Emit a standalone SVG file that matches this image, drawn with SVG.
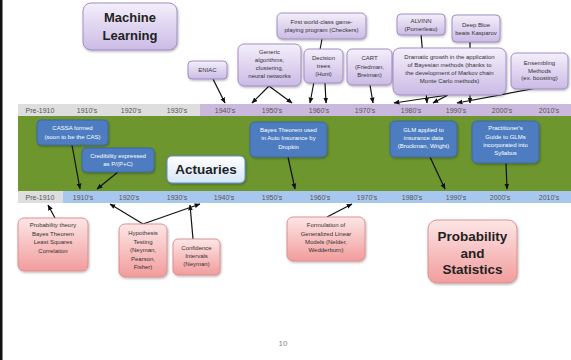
<svg xmlns="http://www.w3.org/2000/svg" width="571" height="360" viewBox="0 0 571 360">
<defs>
<linearGradient id="gp" x1="0" y1="0" x2="0" y2="1"><stop offset="0" stop-color="#f4effb"/><stop offset="1" stop-color="#cbbbe5"/></linearGradient>
<linearGradient id="gk" x1="0" y1="0" x2="0" y2="1"><stop offset="0" stop-color="#fde6e6"/><stop offset="1" stop-color="#f29c9c"/></linearGradient>
<linearGradient id="ga" x1="0" y1="0" x2="0" y2="1"><stop offset="0" stop-color="#ffffff"/><stop offset="1" stop-color="#d6e5f8"/></linearGradient>
<filter id="sh" x="-10%" y="-10%" width="130%" height="130%"><feDropShadow dx="0.8" dy="1.2" stdDeviation="0.8" flood-color="#000" flood-opacity="0.3"/></filter>
<marker id="arr" viewBox="0 0 10 10" refX="9" refY="5" markerWidth="5" markerHeight="5" orient="auto"><path d="M0,1 L10,5 L0,9 z" fill="#111"/></marker>
</defs>
<style>
.p{fill:url(#gp);stroke:#9a86c2;stroke-width:0.9;filter:url(#sh)}
.k{fill:url(#gk);stroke:#d98a8a;stroke-width:0.9;filter:url(#sh)}
.b{fill:#4d7dc0;stroke:#3b66a3;stroke-width:0.9;filter:url(#sh)}
.a{fill:url(#ga);stroke:#5a8ed6;stroke-width:1;filter:url(#sh)}
.t{font-family:"Liberation Sans",Arial,sans-serif;font-size:6px;fill:#333;text-anchor:middle}
.tw{font-family:"Liberation Sans",Arial,sans-serif;font-size:6px;fill:#fff;text-anchor:middle}
.big{font-family:"Liberation Sans",Arial,sans-serif;font-size:13px;font-weight:bold;fill:#222;text-anchor:middle}
.yr{font-family:"Liberation Sans",Arial,sans-serif;font-size:7px;fill:#555;text-anchor:middle}
.c{stroke:#111;stroke-width:1.2;fill:none;marker-end:url(#arr)}
.cn{stroke:#111;stroke-width:1.2;fill:none}
</style>
<rect x="0" y="0" width="571" height="360" fill="#fff"/>
<rect x="0" y="0" width="2.5" height="360" fill="#111"/>
<g id="timeline">
<rect x="18" y="104" width="182" height="12" fill="#dedede"/>
<rect x="200" y="104" width="371" height="12" fill="#cbb9dd"/>
<rect x="18" y="116" width="553" height="75" fill="#6d962e"/>
<rect x="18" y="191" width="45" height="12" fill="#dedede"/>
<rect x="63" y="191" width="508" height="12" fill="#a8c7ee"/>
<g class="yr">
<text x="40" y="112.5">Pre-1910</text><text x="87" y="112.5">1910's</text><text x="131" y="112.5">1920's</text><text x="177" y="112.5">1930's</text><text x="225" y="112.5">1940's</text><text x="272" y="112.5">1950's</text><text x="319" y="112.5">1960's</text><text x="365" y="112.5">1970's</text><text x="411" y="112.5">1980's</text><text x="456" y="112.5">1990's</text><text x="502" y="112.5">2000's</text><text x="549" y="112.5">2010's</text>
<text x="40" y="199.5">Pre-1910</text><text x="83" y="199.5">1910's</text><text x="129" y="199.5">1920's</text><text x="177" y="199.5">1930's</text><text x="224" y="199.5">1940's</text><text x="272" y="199.5">1950's</text><text x="320" y="199.5">1960's</text><text x="367" y="199.5">1970's</text><text x="412" y="199.5">1980's</text><text x="456" y="199.5">1990's</text><text x="500" y="199.5">2000's</text><text x="549" y="199.5">2010's</text>
</g>
</g>
<g id="connectors">
<path class="c" d="M213,79 L225,103"/>
<path class="c" d="M269,86 L252,103"/>
<path class="c" d="M269,86 L292,103"/>
<path class="c" d="M322,39 L310,103"/>
<path class="c" d="M325,83 L326,103"/>
<path class="c" d="M370,85 L373,103"/>
<path class="c" d="M421,34 L427,103"/>
<path class="c" d="M470,42 L470,103"/>
<path class="c" d="M448,95 L394,103"/>
<path class="c" d="M448,95 L433,103"/>
<path class="c" d="M537,88 L457,103"/>
<path class="c" d="M72,145 L80,189"/>
<path class="c" d="M118,172 L97,189"/>
<path class="c" d="M288,157 L295,189"/>
<path class="c" d="M430,157 L445,189"/>
<path class="c" d="M506,163 L507,189"/>
<path class="c" d="M55,218 L48,205"/>
<path class="c" d="M143,224 L110,204"/>
<path class="c" d="M143,224 L200,204"/>
<path class="c" d="M193,239 L190,205"/>
<path class="c" d="M327,217 L352,204"/>
</g>
<g id="ml"><rect class="p" x="83" y="3" width="94" height="47" rx="8"/><text class="big" x="130" y="22">Machine</text><text class="big" x="130" y="40">Learning</text></g>
<g id="eniac"><rect class="p" x="188" y="61" width="39" height="18" rx="4"/><text class="t" x="207.5" y="72">ENIAC</text></g>
<g id="generic"><rect class="p" x="238" y="44" width="63" height="42" rx="6"/><text class="t" x="269.5"><tspan x="269.5" y="54">Generic</tspan><tspan x="269.5" y="62">algorithms,</tspan><tspan x="269.5" y="70">clustering,</tspan><tspan x="269.5" y="78">neural networks</tspan></text></g>
<g id="game"><rect class="p" x="277" y="13" width="89" height="26" rx="5"/><text class="t" x="321.5"><tspan x="321.5" y="24">First world-class game-</tspan><tspan x="321.5" y="32">playing program (Checkers)</tspan></text></g>
<g id="decision"><rect class="p" x="304" y="49" width="39" height="34" rx="5"/><text class="t" x="323.5"><tspan x="323.5" y="60">Decision</tspan><tspan x="323.5" y="68">trees</tspan><tspan x="323.5" y="76">(Hunt)</tspan></text></g>
<g id="cart"><rect class="p" x="347" y="49" width="45" height="36" rx="5"/><text class="t" x="369.5"><tspan x="369.5" y="60">CART</tspan><tspan x="369.5" y="68.5">(Friedman,</tspan><tspan x="369.5" y="76.5">Breiman)</tspan></text></g>
<g id="alvinn"><rect class="p" x="397" y="14" width="48" height="21" rx="4"/><text class="t" x="421"><tspan x="421" y="22.5">ALVINN</tspan><tspan x="421" y="31">(Pomerleau)</tspan></text></g>
<g id="deepblue"><rect class="p" x="452" y="15" width="48" height="27" rx="4"/><text class="t" x="476"><tspan x="476" y="27">Deep Blue</tspan><tspan x="476" y="35">beats Kasparov</tspan></text></g>
<g id="dramatic"><rect class="p" x="393" y="48" width="113" height="47" rx="7"/><text class="t" x="449.5"><tspan x="449.5" y="59">Dramatic growth in the application</tspan><tspan x="449.5" y="67">of Bayesian methods (thanks to</tspan><tspan x="449.5" y="75">the development of Markov chain</tspan><tspan x="449.5" y="83">Monte Carlo methods)</tspan></text></g>
<g id="ensembling"><rect class="p" x="511" y="53" width="57" height="36" rx="5"/><text class="t" x="539.5"><tspan x="539.5" y="65">Ensembling</tspan><tspan x="539.5" y="72.5">Methods</tspan><tspan x="539.5" y="80">(ex. boosting)</tspan></text></g>
<g id="cassa"><rect class="b" x="37" y="120" width="71" height="25" rx="4"/><text class="tw" x="72.5"><tspan x="72.5" y="130">CASSA formed</tspan><tspan x="72.5" y="139">(soon to be the CAS)</tspan></text></g>
<g id="credibility"><rect class="b" x="82" y="148" width="72" height="24" rx="4"/><text class="tw" x="118"><tspan x="118" y="158">Credibility expressed</tspan><tspan x="118" y="165.5">as P/(P+C)</tspan></text></g>
<g id="actuaries"><rect class="a" x="167" y="156" width="78" height="27" rx="5"/><text class="big" x="206" y="174" style="font-size:13.5px">Actuaries</text></g>
<g id="bayes"><rect class="b" x="250" y="122" width="77" height="35" rx="5"/><text class="tw" x="288.5"><tspan x="288.5" y="132">Bayes Theorem used</tspan><tspan x="288.5" y="140">in Auto Insurance by</tspan><tspan x="288.5" y="148.5">Dropkin</tspan></text></g>
<g id="glmapplied"><rect class="b" x="390" y="121" width="67" height="36" rx="5"/><text class="tw" x="423.5"><tspan x="423.5" y="132">GLM applied to</tspan><tspan x="423.5" y="140">insurance data</tspan><tspan x="423.5" y="148">(Brockman, Wright)</tspan></text></g>
<g id="practitioner"><rect class="b" x="472" y="121" width="67" height="42" rx="5"/><text class="tw" x="505.5"><tspan x="505.5" y="130">Practitioner's</tspan><tspan x="505.5" y="139">Guide to GLMs</tspan><tspan x="505.5" y="147">incorporated into</tspan><tspan x="505.5" y="155">Syllabus</tspan></text></g>
<g id="probtheory"><rect class="k" x="18" y="218" width="70" height="53" rx="6"/><text class="t" x="53"><tspan x="53" y="227">Probability theory</tspan><tspan x="53" y="235.5">Bayes Theorem</tspan><tspan x="53" y="244">Least Squares</tspan><tspan x="53" y="252.5">Correlation</tspan></text></g>
<g id="hypothesis"><rect class="k" x="119" y="224" width="48" height="53" rx="6"/><text class="t" x="143"><tspan x="143" y="235">Hypothesis</tspan><tspan x="143" y="243.5">Testing</tspan><tspan x="143" y="252">(Neyman,</tspan><tspan x="143" y="260.5">Pearson,</tspan><tspan x="143" y="269">Fisher)</tspan></text></g>
<g id="confidence"><rect class="k" x="173" y="239" width="47" height="36" rx="5"/><text class="t" x="196.5"><tspan x="196.5" y="250">Confidence</tspan><tspan x="196.5" y="258">Intervals</tspan><tspan x="196.5" y="265.5">(Neyman)</tspan></text></g>
<g id="formulation"><rect class="k" x="287" y="217" width="78" height="44" rx="6"/><text class="t" x="326"><tspan x="326" y="227">Formulation of</tspan><tspan x="326" y="235.5">Generalized Linear</tspan><tspan x="326" y="244">Models (Nelder,</tspan><tspan x="326" y="252">Wedderburn)</tspan></text></g>
<g id="probstat"><rect class="k" x="428" y="220" width="89" height="63" rx="9"/><text class="big" x="472.5" style="font-size:13.5px"><tspan x="472.5" y="241">Probability</tspan><tspan x="472.5" y="257.5">and</tspan><tspan x="472.5" y="274">Statistics</tspan></text></g>
<text x="283" y="346" style="font-family:'Liberation Sans',Arial,sans-serif;font-size:8px;fill:#888;text-anchor:middle">10</text>
</svg>
